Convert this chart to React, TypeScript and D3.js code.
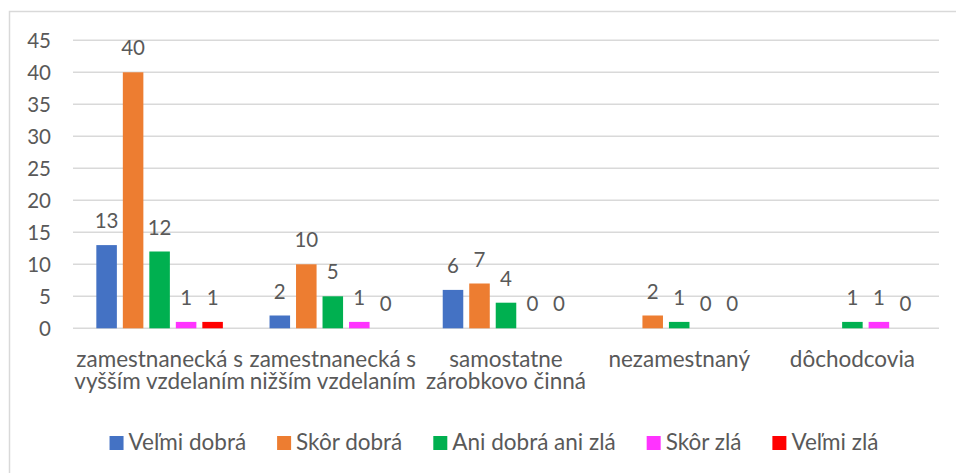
import React, { useEffect, useRef } from 'react';
import * as d3 from 'd3';

const categories = [
  'zamestnanecká s\nvyšším vzdelaním',
  'zamestnanecká s\nnižším vzdelaním',
  'samostatne\nzárobkovo činná',
  'nezamestnaný',
  'dôchodcovia',
];

const seriesNames = ['Veľmi dobrá', 'Skôr dobrá', 'Ani dobrá ani zlá', 'Skôr zlá', 'Veľmi zlá'];
const seriesColors = ['#4472C4', '#ED7D31', '#00B050', '#FF33FF', '#FF0000'];

// null = no value in the source table (no bar, no label)
const velmiDobra = [13, 2, 6, null, null];
const skorDobra = [40, 10, 7, 2, null];
const aniDobraAniZla = [12, 5, 4, 1, 1];
const skorZla = [1, 1, 0, 0, 1];
const velmiZla = [1, 0, 0, 0, 0];

const yTicks = [0, 5, 10, 15, 20, 25, 30, 35, 40, 45];

const W = 956;
const H = 473;
const FONT = 'Lato, "Open Sans", sans-serif';
const TEXT = '#595959';
const GRID = '#d9d9d9';

const App = () => {
  const svgRef = useRef<SVGSVGElement>(null);

  useEffect(() => {
    const svg = d3.select(svgRef.current);
    svg.selectAll('*').remove();

    const series = [velmiDobra, skorDobra, aniDobraAniZla, skorZla, velmiZla];
    const plot = { left: 73, right: 939, top: 40.3, bottom: 328.3 };

    // chart frame (only top/left edges are visible in the picture)
    svg.append('rect')
      .attr('x', 9.5).attr('y', 11.5)
      .attr('width', W + 20).attr('height', H + 20)
      .attr('fill', '#fff')
      .attr('stroke', GRID)
      .attr('stroke-width', 1.5);

    const x0 = d3.scaleBand<number>()
      .domain(categories.map((_, i) => i))
      .range([plot.left, plot.right])
      .paddingInner(0.235)
      .paddingOuter(0.1175);

    const x1 = d3.scaleBand<number>()
      .domain(seriesNames.map((_, i) => i))
      .range([0, x0.bandwidth()])
      .paddingInner(0.225)
      .paddingOuter(0.1125);

    const y = d3.scaleLinear().domain([0, 45]).range([plot.bottom, plot.top]);

    // gridlines
    svg.append('g')
      .selectAll('line')
      .data(yTicks)
      .join('line')
      .attr('x1', plot.left).attr('x2', plot.right)
      .attr('y1', d => y(d)).attr('y2', d => y(d))
      .attr('stroke', GRID)
      .attr('stroke-width', 1.5);

    // y tick labels
    svg.append('g')
      .selectAll('text')
      .data(yTicks)
      .join('text')
      .attr('x', 51)
      .attr('y', d => y(d))
      .attr('dy', '0.36em')
      .attr('text-anchor', 'end')
      .attr('fill', TEXT)
      .style('font-family', FONT)
      .style('font-size', '20.5px')
      .text(d => d);

    // bars + data labels
    series.forEach((vals, s) => {
      const g = svg.append('g');
      const pts = vals
        .map((v, c) => ({ v, c }))
        .filter(d => d.v !== null) as { v: number; c: number }[];

      g.selectAll('rect')
        .data(pts)
        .join('rect')
        .attr('x', d => (x0(d.c) as number) + (x1(s) as number))
        .attr('y', d => y(d.v))
        .attr('width', x1.bandwidth())
        .attr('height', d => y(0) - y(d.v))
        .attr('fill', seriesColors[s]);

      g.selectAll('text')
        .data(pts)
        .join('text')
        .attr('x', d => (x0(d.c) as number) + (x1(s) as number) + x1.bandwidth() / 2)
        .attr('y', d => y(d.v) - 17)
        .attr('text-anchor', 'middle')
        .attr('fill', TEXT)
        .style('font-family', FONT)
        .style('font-size', '20.5px')
        .text(d => d.v);
    });

    // category labels
    const cat = svg.append('g');
    categories.forEach((label, i) => {
      const cx = (x0(i) as number) + x0.bandwidth() / 2;
      label.split('\n').forEach((line, j) => {
        cat.append('text')
          .attr('x', cx)
          .attr('y', 366.5 + j * 22)
          .attr('text-anchor', 'middle')
          .attr('fill', TEXT)
          .style('font-family', FONT)
          .style('font-size', '22.5px')
          .text(line);
      });
    });

    // legend
    const sq = 14;
    const gapText = 5;
    const gapItem = 31;
    const legend = svg.append('g');
    const items = seriesNames.map((name, i) => {
      const g = legend.append('g');
      g.append('rect')
        .attr('width', sq).attr('height', sq)
        .attr('y', 436)
        .attr('fill', seriesColors[i]);
      const t = g.append('text')
        .attr('x', sq + gapText)
        .attr('y', 449.5)
        .attr('fill', TEXT)
        .style('font-family', FONT)
        .style('font-size', '22.5px')
        .text(name);
      const w = (t.node() as SVGTextElement).getComputedTextLength();
      return { g, w: sq + gapText + w };
    });
    const total = d3.sum(items, d => d.w) + gapItem * (items.length - 1);
    let lx = 494 - total / 2;
    items.forEach(it => {
      it.g.attr('transform', `translate(${lx},0)`);
      lx += it.w + gapItem;
    });
  }, []);

  return (
    <div style={{ position: 'absolute', left: 0, top: 0 }}>
      <svg ref={svgRef} width={W} height={H} style={{ display: 'block', background: '#fff' }} />
    </div>
  );
};

export default App;
